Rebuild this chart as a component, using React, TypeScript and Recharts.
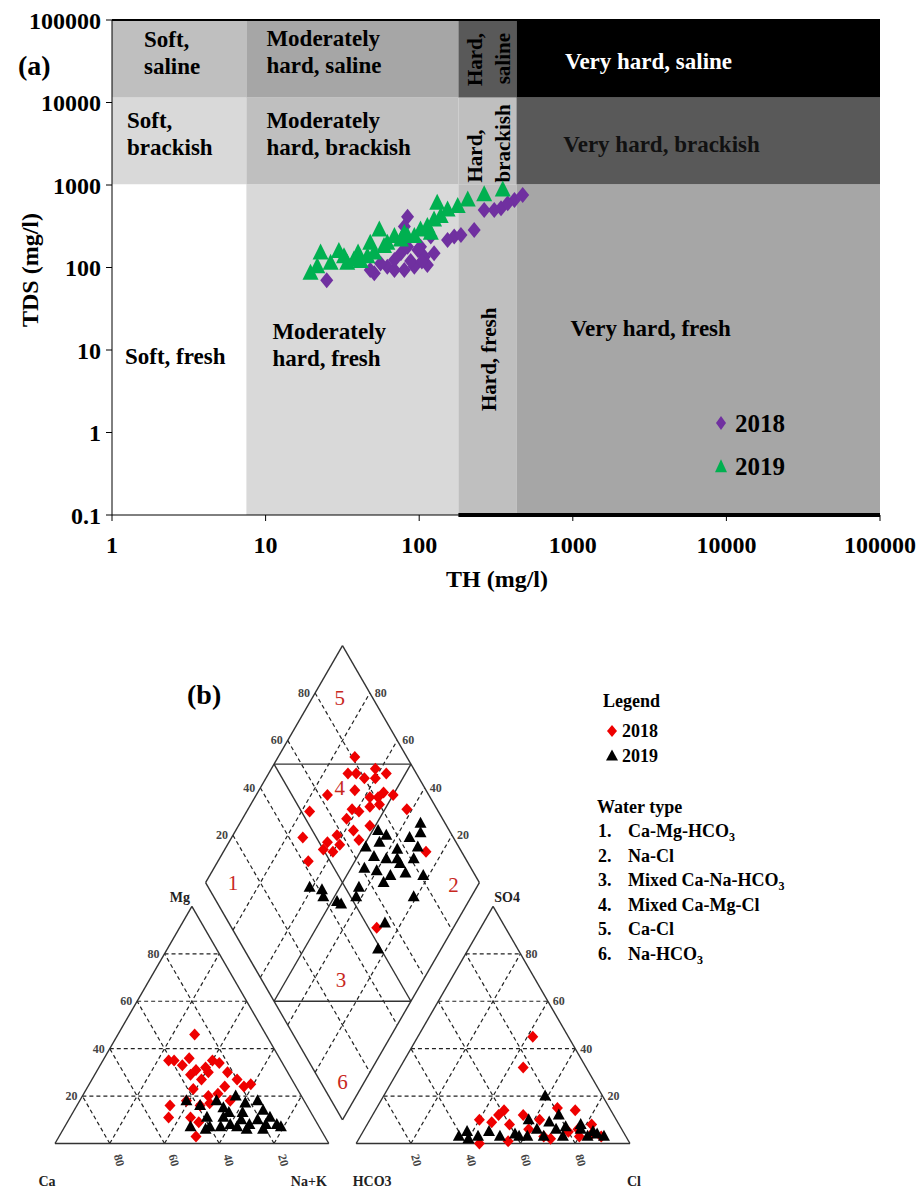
import React from "react";
import { ReferenceArea, ReferenceLine, Scatter, ScatterChart, XAxis, YAxis } from "recharts";

const FONT = '"Liberation Serif", "Times New Roman", serif';

// ---- (a) TH vs TDS ----
const TH_TICKS = [1, 10, 100, 1000, 10000, 100000];
const TDS_TICKS = [0.1, 1, 10, 100, 1000, 10000, 100000];
const HARDNESS_LIMITS = [1, 7.5, 180, 430, 100000];
const SALINITY_LIMITS = [0.1, 1020, 11500, 100000];
const HARDNESS = ["Soft", "Moderately hard", "Hard", "Very hard"];
const SALINITY = ["fresh", "brackish", "saline"];

// [TH, TDS] mg/l
const TH_TDS_2018 = [
  [25, 70], [51, 85], [48, 93], [62, 102], [69, 93], [80, 93], [93, 102], [113, 107],
  [108, 135], [125, 149], [76, 149], [69, 123], [84, 179], [102, 179], [119, 237], [84, 413],
  [80, 313], [169, 237], [187, 248], [228, 285], [153, 215], [265, 498], [341, 521], [417, 658],
  [472, 757], [377, 600], [308, 498], [56, 112], [98, 163], [88, 120], [104, 118],
];
const TH_TDS_2019 = [
  [19.6, 85], [21.7, 102], [22.8, 149], [26.5, 112], [30, 156], [32.4, 135], [34, 112], [37.6, 123],
  [40, 149], [41.6, 118], [46, 135], [48, 196], [51, 149], [55, 285], [59, 179], [62, 196],
  [69, 237], [76, 215], [80, 260], [84, 237], [93, 237], [102, 285], [113, 313], [119, 260],
  [125, 376], [131, 600], [138, 413], [153, 498], [178, 546], [207, 658], [265, 757], [350, 869],
];

// ---- (b) Piper ----
// cation triangle: [Mg %, Na+K %]
const CATION_2018 = [
  [46, 28], [35, 24], [35, 26], [33, 30], [36, 31], [31, 36], [29, 35], [32, 39], [35, 40], [34, 43],
  [30, 41], [27, 40], [30, 48], [27, 53], [24, 57], [25, 59], [24, 50], [21, 49], [20, 46], [23, 39],
  [16, 34], [11, 36], [11, 44], [9, 48], [3, 50], [17, 48], [18, 55], [16, 45], [18, 39],
];
const CATION_2019 = [
  [18, 39], [16, 45], [18, 50], [15, 54], [20, 56], [17, 61], [18, 65], [14, 69], [11, 73], [8, 77],
  [7, 79], [6, 73], [8, 67], [10, 63], [8, 60], [7, 57], [7, 53], [6, 52], [7, 46], [13, 57],
  [13, 62], [10, 69], [7, 63], [11, 50], [11, 56], [6, 67], [8, 73],
];
// anion triangle: [SO4 %, Cl %]
const ANION_2018 = [
  [45, 42], [32, 45], [14, 47], [12, 46], [9, 45], [10, 40], [8, 52], [12, 55], [15, 66], [14, 73],
  [8, 82], [0, 45], [3, 67], [5, 75], [3, 80], [3, 88], [6, 60], [2, 70], [4, 84], [10, 62], [1, 55], [6, 78],
];
const ANION_2019 = [
  [20, 59], [3, 36], [5, 38], [5, 46], [3, 51], [4, 56], [10, 58], [6, 63], [9, 66], [12, 68],
  [7, 73], [6, 79], [5, 84], [3, 89], [3, 58], [3, 83], [3, 67], [3, 74], [3, 43], [3, 61],
  [8, 78], [2, 40], [6, 70], [4, 86],
];
// diamond: [Na+K %, Cl+SO4 %]
const DIAMOND_2018 = [
  [28, 81], [29, 75], [38, 86], [43, 89], [36, 80], [26, 63], [35, 74], [42, 78], [45, 81], [50, 87],
  [47, 80], [38, 69], [23, 53], [41, 71], [58, 89], [38, 65], [43, 65], [38, 58], [26, 45], [36, 53],
  [41, 57], [36, 50], [40, 53], [33, 42], [47, 65], [74, 87], [72, 53], [32, 78], [40, 84], [44, 76],
  [48, 72], [46, 84],
];
const DIAMOND_2019 = [
  [52, 74], [56, 76], [51, 66], [55, 72], [63, 77], [56, 67], [61, 71], [67, 75], [55, 61], [60, 65],
  [66, 69], [65, 65], [71, 75], [66, 91], [65, 84], [70, 85], [71, 81], [78, 81], [57, 55], [58, 52],
  [54, 45], [46, 40], [79, 73], [74, 57], [77, 49], [68, 89], [65, 75], [39, 37], [44, 41], [52, 44],
];
const GRID_STEPS = [20, 40, 60, 80];
const WATER_TYPES = [
  ["Ca-Mg-HCO", "3"], ["Na-Cl", ""], ["Mixed Ca-Na-HCO", "3"], ["Mixed Ca-Mg-Cl", ""], ["Ca-Cl", ""], ["Na-HCO", "3"],
];

// ---- region styling for (a) ----
const REGION_FILL = [
  ["#ffffff", "#d9d9d9", "#bfbfbf", "#a6a6a6"],
  ["#d9d9d9", "#bfbfbf", "#bfbfbf", "#595959"],
  ["#bfbfbf", "#a6a6a6", "#595959", "#000000"],
];
type RegionText = { lines: string[]; dx: number; dy: number; rotate?: boolean; anchor?: "start" | "middle" | "end"; color?: string };
const REGION_TEXT: RegionText[][] = [
  [
    { lines: ["Soft, fresh"], dx: 13, dy: 180 },
    { lines: ["Moderately", "hard, fresh"], dx: 26, dy: 155 },
    { lines: ["Hard, fresh"], dx: 38, dy: 175, rotate: true, anchor: "middle" },
    { lines: ["Very hard, fresh"], dx: 54, dy: 152 },
  ],
  [
    { lines: ["Soft,", "brackish"], dx: 15, dy: 31 },
    { lines: ["Moderately", "hard, brackish"], dx: 20, dy: 31 },
    { lines: ["Hard,", "brackish"], dx: 24, dy: 85, rotate: true },
    { lines: ["Very hard, brackish"], dx: 145, dy: 55, anchor: "middle", color: "#111" },
  ],
  [
    { lines: ["Soft,", "saline"], dx: 32, dy: 27 },
    { lines: ["Moderately", "hard, saline"], dx: 20, dy: 26 },
    { lines: ["Hard,", "saline"], dx: 24, dy: 13, rotate: true, anchor: "end" },
    { lines: ["Very hard, saline"], dx: 132, dy: 49, anchor: "middle", color: "#fff" },
  ],
];

function RegionLabel({ viewBox, spec }: { viewBox: any; spec: RegionText }) {
  if (!viewBox) return null;
  const x0 = viewBox.x + spec.dx;
  const y0 = viewBox.y + spec.dy;
  const common = { fontFamily: FONT, fontSize: 23, fontWeight: 700, fill: spec.color ?? "#000", textAnchor: spec.anchor ?? "start" } as const;
  return (
    <g>
      {spec.lines.map((t, i) =>
        spec.rotate ? (
          <text key={i} x={x0 + i * 28} y={y0} transform={`rotate(-90 ${x0 + i * 28} ${y0})`} {...common} fontSize={21}>{t}</text>
        ) : (
          <text key={i} x={x0} y={y0 + i * 27} {...common}>{t}</text>
        )
      )}
    </g>
  );
}

const diamondPts = (cx: number, cy: number, w: number, h: number) =>
  `${cx},${cy - h / 2} ${cx + w / 2},${cy} ${cx},${cy + h / 2} ${cx - w / 2},${cy}`;
const trianglePts = (cx: number, cy: number, w: number, h: number) =>
  `${cx},${cy - h * 0.6} ${cx + w / 2},${cy + h * 0.4} ${cx - w / 2},${cy + h * 0.4}`;

function HardnessChart() {
  const d2018 = TH_TDS_2018.map(([th, tds]) => ({ th, tds }));
  const d2019 = TH_TDS_2019.map(([th, tds]) => ({ th, tds }));
  const tick = { fill: "#000", fontSize: 24, fontWeight: 700, fontFamily: FONT };
  return (
    <ScatterChart width={919} height={600} margin={{ top: 20, right: 39, bottom: 0, left: 0 }}>
      <XAxis type="number" dataKey="th" scale="log" domain={[1, 100000]} ticks={TH_TICKS} interval={0}
        allowDataOverflow height={85} axisLine={{ stroke: "#000" }} tickLine={{ stroke: "#000" }}
        tickSize={6} tickMargin={15} tick={tick} tickFormatter={(v) => String(v)} />
      <YAxis type="number" dataKey="tds" scale="log" domain={[0.1, 100000]} ticks={TDS_TICKS} interval={0}
        allowDataOverflow width={112} axisLine={{ stroke: "#000" }} tickLine={{ stroke: "#000" }}
        tickSize={6} tickMargin={5} tick={tick} tickFormatter={(v) => String(v)} />
      {SALINITY.flatMap((s, si) =>
        HARDNESS.map((h, hi) => (
          <ReferenceArea key={`${s}-${h}`} x1={HARDNESS_LIMITS[hi]} x2={HARDNESS_LIMITS[hi + 1]}
            y1={SALINITY_LIMITS[si]} y2={SALINITY_LIMITS[si + 1]} fill={REGION_FILL[si][hi]} fillOpacity={1}
            stroke="none" ifOverflow="visible"
            label={(p: any) => <RegionLabel viewBox={p.viewBox} spec={REGION_TEXT[si][hi]} />} />
        ))
      )}
      <ReferenceLine y={100000} stroke="#000" strokeWidth={2} />
      <ReferenceLine segment={[{ x: 180, y: 0.1 }, { x: 100000, y: 0.1 }]} stroke="#000" strokeWidth={4} />
      <Scatter name="2018" data={d2018} isAnimationActive={false}
        shape={(p: any) => <polygon points={diamondPts(p.cx, p.cy, 13, 16)} fill="#7030a0" />} />
      <Scatter name="2019" data={d2019} isAnimationActive={false}
        shape={(p: any) => <polygon points={trianglePts(p.cx, p.cy, 16, 16)} fill="#00b050" />} />
    </ScatterChart>
  );
}

// ---- Piper geometry (triangle side = 100 units) ----
const H = Math.sqrt(3) / 2;
const GAP = 10;
const PX = 2.738;
const X_DOMAIN = [-55 / PX, (919 - 55) / PX];
const Y_DOMAIN = [(1143.5 - 1189) / PX, (1143.5 - 600) / PX];

type Pt = { x: number; y: number };
const cationXY = ([mg, na]: number[]): Pt => ({ x: na + mg / 2, y: mg * H });
const anionXY = ([so4, cl]: number[]): Pt => ({ x: 100 + GAP + cl + so4 / 2, y: so4 * H });
const diamondXY = ([na, an]: number[]): Pt => ({ x: (na + 100 + GAP + an) / 2, y: H * (100 + GAP + an - na) });

const triangleGrid = (ox: number): Pt[][] =>
  GRID_STEPS.flatMap((p) => [
    [{ x: ox + p / 2, y: p * H }, { x: ox + 100 - p / 2, y: p * H }],
    [{ x: ox + p, y: 0 }, { x: ox + p + (100 - p) / 2, y: (100 - p) * H }],
    [{ x: ox + 100 - p, y: 0 }, { x: ox + (100 - p) / 2, y: (100 - p) * H }],
  ]);
const DASHED: Pt[][] = [
  ...triangleGrid(0),
  ...triangleGrid(100 + GAP),
  ...GRID_STEPS.flatMap((q) => [
    [diamondXY([q, 0]), diamondXY([q, 100])],
    [diamondXY([0, q]), diamondXY([100, q])],
  ]),
];
const triEdges = (ox: number): Pt[][] => {
  const a = { x: ox, y: 0 }, b = { x: ox + 100, y: 0 }, c = { x: ox + 50, y: 100 * H };
  return [[a, b], [b, c], [c, a]];
};
const dL = diamondXY([0, 0]), dT = diamondXY([0, 100]), dR = diamondXY([100, 100]), dB = diamondXY([100, 0]);
const SOLID: Pt[][] = [
  ...triEdges(0),
  ...triEdges(100 + GAP),
  [dL, dT], [dT, dR], [dR, dB], [dB, dL],
  [diamondXY([50, 0]), diamondXY([50, 100])],
  [diamondXY([0, 50]), diamondXY([100, 50])],
  [diamondXY([0, 50]), diamondXY([50, 100])],
  [diamondXY([50, 0]), diamondXY([100, 50])],
];

type Lbl = Pt & { text: string; dx?: number; dy?: number; anchor?: string; rot?: number; size: number; weight?: number; color: string };
const tickLbl = (p: Pt, text: string, dx: number, dy: number, anchor: string, rot?: number): Lbl =>
  ({ ...p, text, dx, dy, anchor, rot, size: 12, weight: 700, color: "#444" });
const PIPER_LABELS: Lbl[] = [
  ...GRID_STEPS.map((p) => tickLbl({ x: p / 2, y: p * H }, String(p), -5, 4, "end")),
  ...GRID_STEPS.map((p) => tickLbl({ x: 100 - p, y: 0 }, String(p), 4, 12, "start", 75)),
  ...GRID_STEPS.map((p) => tickLbl({ x: 100 + GAP + 100 - p / 2, y: p * H }, String(p), 5, 4, "start")),
  ...GRID_STEPS.map((p) => tickLbl({ x: 100 + GAP + p, y: 0 }, String(p), 0, 12, "start", 75)),
  ...GRID_STEPS.map((q) => tickLbl(diamondXY([0, q]), String(q), -5, 4, "end")),
  ...GRID_STEPS.map((q) => tickLbl(diamondXY([100 - q, 100]), String(q), 5, 4, "start")),
  ...[
    { p: { x: 50, y: 100 * H }, t: "Mg", dx: -12, dy: -4 },
    { p: { x: 160, y: 100 * H }, t: "SO4", dx: 14, dy: -4 },
    { p: { x: 0, y: 0 }, t: "Ca", dx: -8, dy: 42 },
    { p: { x: 100, y: 0 }, t: "Na+K", dx: -20, dy: 42 },
    { p: { x: 110, y: 0 }, t: "HCO3", dx: 16, dy: 42 },
    { p: { x: 210, y: 0 }, t: "Cl", dx: 4, dy: 42 },
  ].map((c) => ({ ...c.p, text: c.t, dx: c.dx, dy: c.dy, anchor: "middle", size: 14, weight: 700, color: "#222" })),
  ...[
    { c: [10, 10], t: "1" }, { c: [91, 90], t: "2" }, { c: [70, 29], t: "3" },
    { c: [29, 69], t: "4" }, { c: [10, 88], t: "5" }, { c: [92, 8], t: "6" },
  ].map((r) => ({ ...diamondXY(r.c), text: r.t, dx: 0, dy: 7, anchor: "middle", size: 21, color: "#c8281e" })),
];

function PiperLabel(p: any) {
  const d: Lbl = p.payload;
  const x = p.cx + (d.dx ?? 0);
  const y = p.cy + (d.dy ?? 0);
  return (
    <text x={x} y={y} textAnchor={d.anchor as any} fontFamily={FONT} fontSize={d.size} fontWeight={d.weight ?? 400}
      fill={d.color} transform={d.rot ? `rotate(${d.rot} ${x} ${y})` : undefined}>{d.text}</text>
  );
}

const redDiamond = (p: any) => <polygon points={diamondPts(p.cx, p.cy, 11, 12)} fill="#ee0000" />;
const blackTriangle = (p: any) => <polygon points={trianglePts(p.cx, p.cy, 12, 11)} fill="#000" />;

function PiperChart() {
  const red = [...CATION_2018.map(cationXY), ...ANION_2018.map(anionXY), ...DIAMOND_2018.map(diamondXY)];
  const black = [...CATION_2019.map(cationXY), ...ANION_2019.map(anionXY), ...DIAMOND_2019.map(diamondXY)];
  return (
    <ScatterChart width={919} height={589} margin={{ top: 0, right: 0, bottom: 0, left: 0 }}>
      <XAxis type="number" dataKey="x" hide domain={X_DOMAIN} allowDataOverflow />
      <YAxis type="number" dataKey="y" hide domain={Y_DOMAIN} allowDataOverflow />
      {DASHED.map((s, i) => (
        <ReferenceLine key={`d${i}`} segment={s} stroke="#222" strokeWidth={1.2} strokeDasharray="4 3" ifOverflow="visible" />
      ))}
      {SOLID.map((s, i) => (
        <ReferenceLine key={`s${i}`} segment={s} stroke="#333" strokeWidth={1.4} ifOverflow="visible" />
      ))}
      <Scatter name="2018" data={red} shape={redDiamond} isAnimationActive={false} />
      <Scatter name="2019" data={black} shape={blackTriangle} isAnimationActive={false} />
      <Scatter name="labels" data={PIPER_LABELS} shape={PiperLabel} isAnimationActive={false} />
    </ScatterChart>
  );
}

function Overlay() {
  const bold = { fontFamily: FONT, fontWeight: 700, fill: "#000" } as const;
  return (
    <svg width={919} height={1189} style={{ position: "absolute", left: 0, top: 0, pointerEvents: "none" }}>
      <text x={18} y={75} fontSize={28} {...bold}>(a)</text>
      <text x={38} y={270} fontSize={24} textAnchor="middle" transform="rotate(-90 38 270)" {...bold}>TDS (mg/l)</text>
      <text x={497} y={587} fontSize={24} textAnchor="middle" {...bold}>TH (mg/l)</text>
      <polygon points={diamondPts(721, 423, 10, 14)} fill="#7030a0" />
      <text x={735} y={432} fontSize={25} {...bold}>2018</text>
      <polygon points={trianglePts(721, 467, 12, 13)} fill="#00b050" />
      <text x={735} y={475} fontSize={25} {...bold}>2019</text>

      <text x={187} y={704} fontSize={28} {...bold}>(b)</text>
      <text x={603} y={707} fontSize={18} {...bold}>Legend</text>
      <polygon points={diamondPts(612, 731, 10, 12)} fill="#ee0000" />
      <text x={622} y={737} fontSize={18} {...bold}>2018</text>
      <polygon points={trianglePts(612, 756, 12, 11)} fill="#000" />
      <text x={622} y={762} fontSize={18} {...bold}>2019</text>
      <text x={597} y={813} fontSize={18} {...bold}>Water type</text>
      {WATER_TYPES.map(([t, sub], i) => (
        <g key={t}>
          <text x={598} y={837 + i * 24.6} fontSize={18} {...bold}>{`${i + 1}.`}</text>
          <text x={628} y={837 + i * 24.6} fontSize={18} {...bold}>
            {t}
            {sub && <tspan fontSize={12} dy={4}>{sub}</tspan>}
          </text>
        </g>
      ))}
    </svg>
  );
}

export default function App() {
  return (
    <div style={{ position: "absolute", left: 0, top: 0, width: 919, height: 1189, background: "#fff", fontFamily: FONT }}>
      <div style={{ position: "absolute", left: 0, top: 0 }}>
        <HardnessChart />
      </div>
      <div style={{ position: "absolute", left: 0, top: 600 }}>
        <PiperChart />
      </div>
      <Overlay />
    </div>
  );
}
